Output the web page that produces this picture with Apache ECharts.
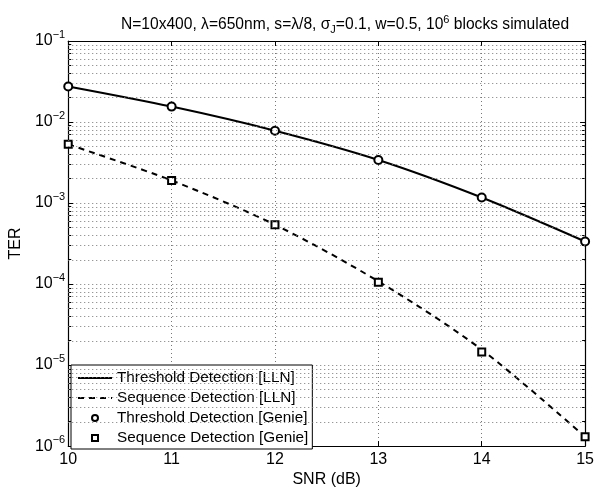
<!DOCTYPE html>
<html>
<head>
<meta charset="utf-8">
<script src="https://cdn.jsdelivr.net/npm/echarts@6/dist/echarts.min.js"></script>
<style>
  html, body { margin: 0; padding: 0; background: #fff; }
  #chart { width: 597px; height: 493px; }
</style>
</head>
<body>
<div id="chart"></div>
<script>
const snr = [10, 11, 12, 13, 14, 15];
const thresholdLLN = [2.75e-2, 1.55e-2, 7.8e-3, 3.4e-3, 1.17e-3, 3.35e-4];
const sequenceLLN = [5.3e-3, 1.9e-3, 5.4e-4, 1.08e-4, 1.55e-5, 1.3e-6];
const thresholdGenie = [2.75e-2, 1.55e-2, 7.8e-3, 3.4e-3, 1.17e-3, 3.35e-4];
const sequenceGenie = [5.3e-3, 1.9e-3, 5.4e-4, 1.05e-4, 1.45e-5, 1.3e-6];
const decades = [-6, -5, -4, -3, -2];
const mantissas = [2, 3, 4, 5, 6, 7, 8, 9];

const FONT = 'Liberation Sans';

// minor log positions, drawn on a hidden linear axis in log10 units
const minorLog = [];
decades.forEach(d => mantissas.forEach(m => minorLog.push(Math.log10(m) + d)));

const pair = arr => snr.map((x, i) => [x, arr[i]]);

const expLabel = v => {
  const e = Math.round(Math.log10(v));
  return '{b|10}{s|' + (e < 0 ? '\u2212' + (-e) : e) + '}';
};

const labelRich = {
  b: {fontFamily: FONT, fontSize: 16, color: '#000'},
  s: {fontFamily: FONT, fontSize: 11, color: '#000', padding: [0, 0, 13, 0]}
};

const dotted = {color: '#777', type: [1, 3], width: 1};
const tick = {inside: true, length: 5, lineStyle: {color: '#000'}};
const frame = {lineStyle: {color: '#000', width: 1.2}};

const hiddenMinor = position => ({
  type: 'value',
  position: position,
  min: -6, max: -1,
  axisLine: {show: false},
  axisTick: {show: true, inside: true, length: 3, customValues: minorLog, lineStyle: {color: '#000'}},
  axisLabel: {show: false},
  splitLine: {show: false}
});

const myChart = echarts.init(document.getElementById('chart'));

const option = {
  backgroundColor: '#fff',
  animation: false,
  title: {
    text: 'N=10x400, \u03bb=650nm, s=\u03bb/8, \u03c3{sub|J}=0.1, w=0.5, 10{sup|6} blocks simulated',
    left: 340,
    textAlign: 'center',
    top: 9,
    textStyle: {
      fontFamily: FONT, fontSize: 15.6, fontWeight: 'normal', color: '#000',
      rich: {
        sub: {fontFamily: FONT, fontSize: 11, padding: [0, 0, -9, 0]},
        sup: {fontFamily: FONT, fontSize: 11, padding: [0, 0, 11, 0]}
      }
    }
  },
  grid: {left: 66, right: 10, top: 41, bottom: 39},
  legend: {
    orient: 'vertical',
    left: 71,
    top: 365,
    backgroundColor: '#fff',
    borderColor: '#000',
    borderWidth: 1,
    borderRadius: 0,
    padding: [5, 4, 3, 6],
    itemWidth: 34,
    itemHeight: 6,
    itemGap: 4,
    textStyle: {fontFamily: FONT, fontSize: 15.3, lineHeight: 16, color: '#000'},
    data: [
      {name: 'Threshold Detection [LLN]', itemStyle: {opacity: 0}},
      {name: 'Sequence Detection [LLN]', itemStyle: {opacity: 0}},
      {name: 'Threshold Detection [Genie]'},
      {name: 'Sequence Detection [Genie]', icon: 'path://M0,0L10,0L10,10L0,10Z'}
    ]
  },
  xAxis: [{
    type: 'value',
    min: 10, max: 15, interval: 1,
    name: 'SNR (dB)',
    nameLocation: 'middle',
    nameGap: 21,
    nameTextStyle: {fontFamily: FONT, fontSize: 16, color: '#000'},
    axisLine: frame,
    axisTick: tick,
    axisLabel: {fontFamily: FONT, fontSize: 16, color: '#000', margin: 5},
    splitLine: {show: true, lineStyle: dotted}
  }, {
    type: 'value', position: 'top',
    min: 10, max: 15, interval: 1,
    axisLine: frame,
    axisTick: tick,
    axisLabel: {show: false},
    splitLine: {show: false}
  }],
  yAxis: [{
    type: 'log',
    logBase: 10,
    min: 1e-6, max: 1e-1,
    name: 'TER',
    nameLocation: 'middle',
    nameGap: 39,
    nameRotate: 90,
    nameTextStyle: {fontFamily: FONT, fontSize: 16, color: '#000'},
    axisLine: frame,
    axisTick: tick,
    axisLabel: {formatter: expLabel, rich: labelRich, margin: 3},
    splitLine: {show: true, lineStyle: dotted}
  }, {
    type: 'log',
    logBase: 10,
    position: 'right',
    min: 1e-6, max: 1e-1,
    axisLine: {show: true, lineStyle: frame.lineStyle},
    axisTick: {show: true, inside: true, length: 5, lineStyle: {color: '#000'}},
    axisLabel: {show: false},
    splitLine: {show: false}
  }, hiddenMinor('left'), hiddenMinor('right')],
  series: [
    {
      name: 'minor grid',
      type: 'line',
      yAxisIndex: 2,
      data: [],
      silent: true,
      markLine: {
        silent: true,
        symbol: 'none',
        label: {show: false},
        lineStyle: dotted,
        data: minorLog.map(v => ({yAxis: v}))
      },
      z: 1
    },
    {
      name: 'Threshold Detection [LLN]',
      type: 'line',
      data: pair(thresholdLLN),
      symbol: 'none',
      smooth: 0.3,
      lineStyle: {color: '#000', width: 2},
      itemStyle: {color: '#000'},
      z: 3
    },
    {
      name: 'Sequence Detection [LLN]',
      type: 'line',
      data: pair(sequenceLLN),
      symbol: 'none',
      smooth: 0.3,
      lineStyle: {color: '#000', width: 2, type: [6, 5]},
      itemStyle: {color: '#000'},
      z: 3
    },
    {
      name: 'Threshold Detection [Genie]',
      type: 'scatter',
      data: pair(thresholdGenie),
      symbol: 'circle',
      symbolSize: 8,
      itemStyle: {color: '#fff', borderColor: '#000', borderWidth: 2, opacity: 1},
      z: 4
    },
    {
      name: 'Sequence Detection [Genie]',
      type: 'scatter',
      data: pair(sequenceGenie),
      symbol: 'rect',
      symbolSize: 7,
      itemStyle: {color: '#fff', borderColor: '#000', borderWidth: 2, opacity: 1},
      z: 4
    }
  ]
};

myChart.setOption(option);
</script>
</body>
</html>
